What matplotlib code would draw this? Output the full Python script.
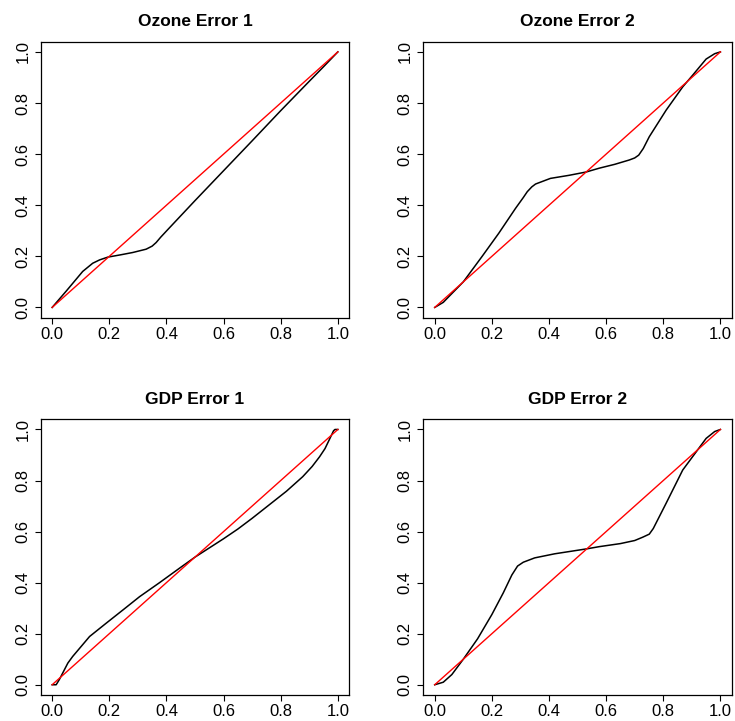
import matplotlib
matplotlib.use("Agg")
import matplotlib.pyplot as plt

plt.rcParams['font.family'] = ['Liberation Sans', 'DejaVu Sans']

titles = ["Ozone Error 1", "Ozone Error 2", "GDP Error 1", "GDP Error 2"]

# black curves
oz1_x = [0, 0.05, 0.107, 0.142, 0.166, 0.195, 0.24, 0.282, 0.329, 0.35, 0.364, 0.38, 0.405, 0.50, 0.60, 0.70, 0.80, 0.90, 0.95, 1.0]
oz1_y = [0, 0.065, 0.141, 0.173, 0.186, 0.197, 0.206, 0.215, 0.228, 0.24, 0.254, 0.275, 0.305, 0.418, 0.535, 0.652, 0.77, 0.885, 0.942, 1.0]

oz2_x = [0, 0.03, 0.05, 0.10, 0.166, 0.224, 0.283, 0.31, 0.324, 0.34, 0.353, 0.405, 0.47, 0.53, 0.576,
         0.63, 0.681, 0.70, 0.714, 0.73, 0.751, 0.81, 0.868, 0.903, 0.95, 0.98, 1.0]
oz2_y = [0, 0.02, 0.043, 0.10, 0.2, 0.29, 0.388, 0.43, 0.453, 0.472, 0.483, 0.505, 0.517, 0.53, 0.545,
         0.56, 0.577, 0.585, 0.596, 0.622, 0.668, 0.772, 0.863, 0.909, 0.972, 0.993, 1.0]

gdp1_x = [0, 0.014, 0.025, 0.037, 0.055, 0.072, 0.10, 0.131, 0.189, 0.25, 0.306, 0.376, 0.45, 0.50,
          0.55, 0.60, 0.65, 0.70, 0.76, 0.82, 0.877, 0.91, 0.936, 0.955, 0.971, 0.985, 0.99, 1.0]
gdp1_y = [0, 0, 0.02, 0.046, 0.085, 0.111, 0.148, 0.189, 0.241, 0.295, 0.345, 0.40, 0.46, 0.5,
          0.536, 0.572, 0.61, 0.652, 0.705, 0.758, 0.815, 0.855, 0.893, 0.925, 0.962, 0.995, 1.0, 1.0]

gdp2_x = [0, 0.03, 0.06, 0.10, 0.15, 0.20, 0.24, 0.27, 0.29, 0.31, 0.35, 0.42, 0.53, 0.576, 0.65,
          0.70, 0.728, 0.751, 0.765, 0.78, 0.81, 0.868, 0.915, 0.95, 0.98, 1.0]
gdp2_y = [0, 0.01, 0.04, 0.10, 0.18, 0.275, 0.36, 0.43, 0.465, 0.48, 0.497, 0.513, 0.532, 0.541, 0.553,
          0.565, 0.578, 0.59, 0.612, 0.645, 0.711, 0.841, 0.912, 0.965, 0.992, 1.0]

curves = [(oz1_x, oz1_y), (oz2_x, oz2_y), (gdp1_x, gdp1_y), (gdp2_x, gdp2_y)]

ref_x = [0, 1]
ref_y = [0, 1]
ticks = [0.0, 0.2, 0.4, 0.6, 0.8, 1.0]
tick_labels = ["0.0", "0.2", "0.4", "0.6", "0.8", "1.0"]

fig = plt.figure(figsize=(7.35, 7.21), dpi=100)

# axes boxes in figure fractions (left, bottom, width, height)
boxes = [
    [0.0554, 0.5594, 0.4198, 0.3828],
    [0.5759, 0.5594, 0.4198, 0.3828],
    [0.0554, 0.0361, 0.4198, 0.3824],
    [0.5759, 0.0361, 0.4198, 0.3824],
]

for i in range(4):
    ax = fig.add_axes(boxes[i])
    cx, cy = curves[i]
    ax.plot(cx, cy, color='black', lw=1.1)
    ax.plot(ref_x, ref_y, color='red', lw=1.0)
    ax.set_xlim(-0.04, 1.04)
    ax.set_ylim(-0.04, 1.04)
    ax.set_xticks(ticks)
    ax.set_xticklabels(tick_labels, fontsize=12)
    ax.set_yticks(ticks)
    ax.set_yticklabels(tick_labels, fontsize=12, rotation=90, va='center')
    ax.tick_params(direction='out', length=4.5, width=0.8, pad=2)
    ax.tick_params(axis='y', pad=3)
    for s in ax.spines.values():
        s.set_linewidth(0.9)
    ax.set_title(titles[i], fontsize=12.5, fontweight='bold', pad=11)

fig.savefig("out.png", dpi=100)
